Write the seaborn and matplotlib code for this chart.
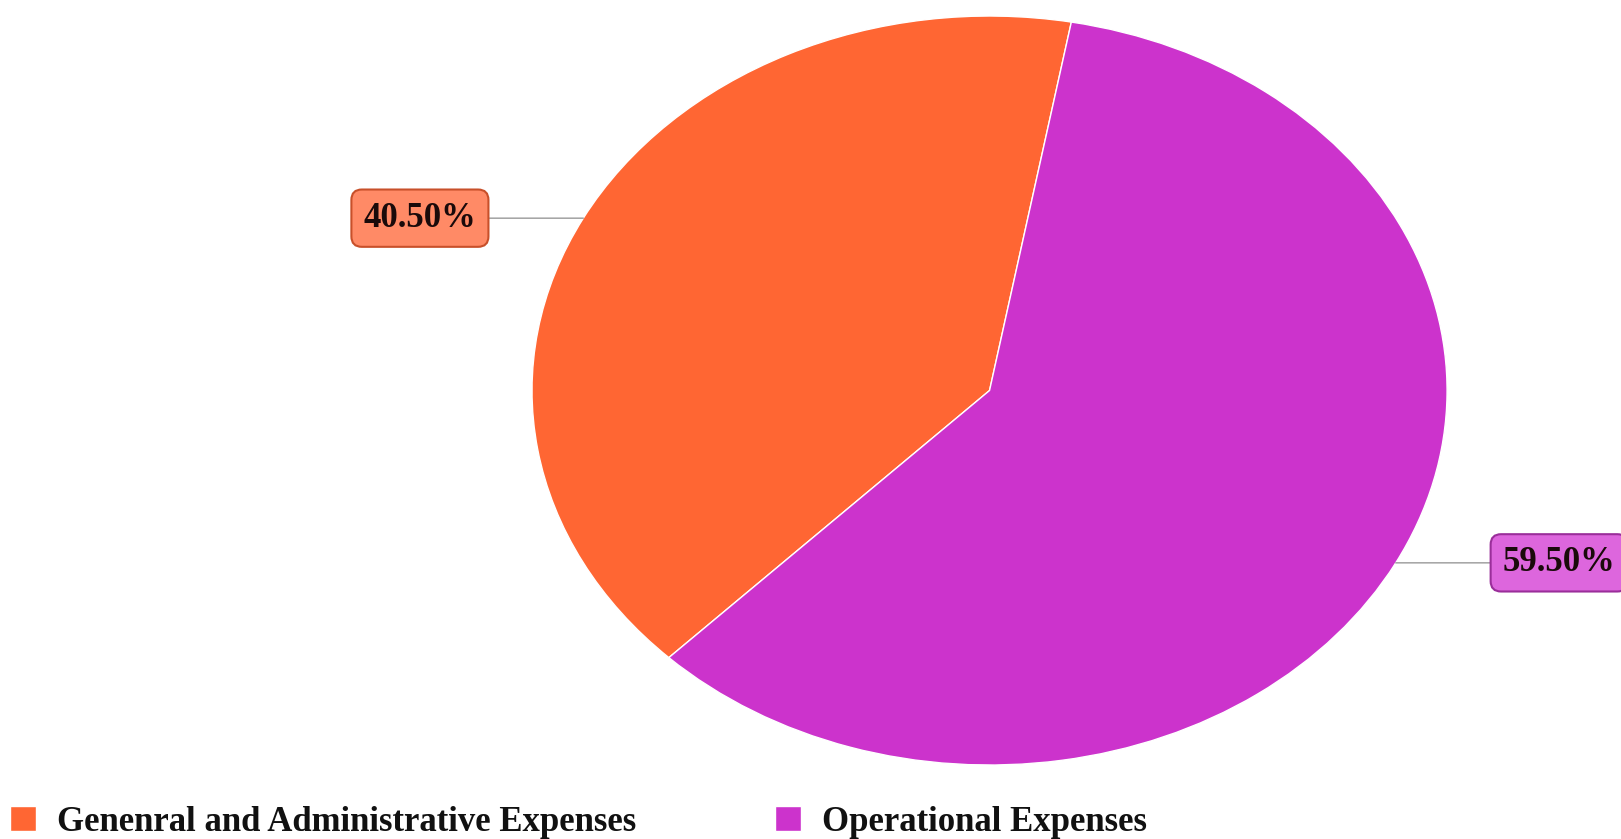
import numpy as np
import matplotlib
matplotlib.use("Agg")
import matplotlib.pyplot as plt
import seaborn as sns

# data
labels = ["Genenral and Administrative Expenses", "Operational Expenses"]
shares = [40.50, 59.50]
colors = ["#FF6633", "#CC33CC"]
box_faces = ["#FF8A66", "#DD66DD"]
box_edges = ["#C8502A", "#9A2E9A"]

sns.set_theme(style="white")
plt.rcParams["font.family"] = ["Liberation Serif", "DejaVu Serif"]

fig = plt.figure(figsize=(16.21, 8.39), dpi=100)
ax = fig.add_axes([0.3282, 0.0882, 0.5645, 0.8927])

start = 79.7
wedges, _ = ax.pie(shares, colors=colors, startangle=start, counterclock=True,
                   wedgeprops=dict(edgecolor="white", linewidth=1))
ax.set_aspect("auto")
ax.set_xlim(-1, 1)
ax.set_ylim(-1, 1)
ax.axis("off")

# percentage labels on leader lines
for w, val, fc, ec in zip(wedges, shares, box_faces, box_edges):
    mid = np.deg2rad((w.theta1 + w.theta2) / 2)
    x, y = np.cos(mid), np.sin(mid)
    tx = 1.245 * np.sign(x)
    ax.annotate(f"{val:.2f}%", xy=(x, y), xytext=(tx, y),
                ha="center", va="center", fontsize=25, fontweight="bold",
                color="#1a0a0a", annotation_clip=False,
                bbox=dict(boxstyle="round,pad=0.35,rounding_size=0.3", fc=fc, ec=ec, lw=1.5),
                arrowprops=dict(arrowstyle="-", color="#999999", lw=1, shrinkA=0, shrinkB=0))

fig.legend(wedges, labels, loc="lower left", bbox_to_anchor=(0.0, -0.012), ncol=2,
           frameon=False, borderpad=0.3, borderaxespad=0,
           handlelength=0.75, handleheight=0.75, handletextpad=0.6,
           columnspacing=4.0, labelcolor="#111111",
           prop=dict(family="Liberation Serif", weight="bold", size=25))

fig.savefig("out.png", dpi=100)
